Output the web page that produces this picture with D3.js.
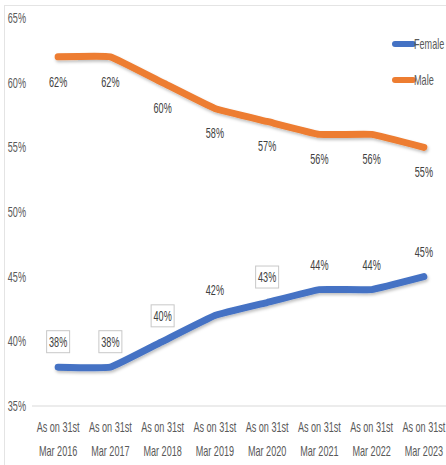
<!DOCTYPE html>
<html>
<head>
<meta charset="utf-8">
<script src="https://cdn.jsdelivr.net/npm/d3@7"></script>
<style>
  body { margin: 0; background: #fff; }
  text { font-family: "Liberation Sans", Arial, sans-serif; font-size: 14px; }
  .axis text { fill: #595959; }
  .label { fill: #404040; }
</style>
</head>
<body>
<div id="vis"></div>
<script>
var years = ['2016', '2017', '2018', '2019', '2020', '2021', '2022', '2023'];
var female = [38, 38, 40, 42, 43, 44, 44, 45];
var male = [62, 62, 60, 58, 57, 56, 56, 55];
var boxedFemale = [true, true, true, false, true, false, false, false];
var yTicks = [35, 40, 45, 50, 55, 60, 65];

var width = 446;
var height = 465;
var squeeze = 0.65; // condensed look of the original font

var margin = { left: 32, right: -4, top: 18, bottom: 59 };
var drawHeight = height - margin.top - margin.bottom;

var svg = d3.select('#vis')
    .append('svg')
    .attr('width', width)
    .attr('height', height);

var squash = function(x, y) {
    return 'translate(' + x + ',' + y + ') scale(' + squeeze + ',1)';
};

var defs = svg.append('defs');
var shadow = defs.append('filter').attr('id', 'shadow')
    .attr('x', '-5%').attr('y', '-50%').attr('width', '110%').attr('height', '200%');
shadow.append('feDropShadow')
    .attr('dx', 1).attr('dy', 2).attr('stdDeviation', 1.5)
    .attr('flood-color', '#000').attr('flood-opacity', 0.25);

// chart frame
svg.append('rect')
    .attr('x', 4.5).attr('y', 5.5)
    .attr('width', width + 10).attr('height', height + 10)
    .attr('fill', 'none')
    .attr('stroke', '#e4e4e4');

var xScale = d3.scaleBand()
    .domain(years)
    .range([margin.left, width - margin.right]);

var yScale = d3.scaleLinear()
    .domain([35, 65])
    .range([margin.top + drawHeight, margin.top]);

var xc = function(d) { return xScale(d) + xScale.bandwidth() / 2; };

// baseline
svg.append('line')
    .attr('x1', margin.left).attr('x2', width)
    .attr('y1', yScale(35)).attr('y2', yScale(35))
    .attr('stroke', '#d9d9d9');

// y axis labels
var yAxis = svg.append('g').attr('class', 'axis');
yAxis.selectAll('text').data(yTicks).enter().append('text')
    .attr('transform', function(d) { return squash(26, yScale(d)); })
    .attr('dy', '0.35em')
    .attr('text-anchor', 'end')
    .text(function(d) { return d + '%'; });

// x axis labels
var xAxis = svg.append('g').attr('class', 'axis');
var xt = xAxis.selectAll('g').data(years).enter().append('g')
    .attr('transform', function(d) { return squash(xc(d), 0); });
xt.append('text')
    .attr('text-anchor', 'middle')
    .attr('y', 432)
    .text('As on 31st');
xt.append('text')
    .attr('text-anchor', 'middle')
    .attr('y', 456)
    .text(function(d) { return 'Mar ' + d; });

var line = d3.line()
    .x(function(d, i) { return xc(years[i]); })
    .y(function(d) { return yScale(d); })
    .curve(d3.curveCardinal.tension(0.75));

var series = [
    { name: 'Female', values: female, color: '#4472c4' },
    { name: 'Male', values: male, color: '#ed7d31' }
];

svg.selectAll('.series').data(series).enter().append('path')
    .attr('class', 'series')
    .attr('d', function(d) { return line(d.values); })
    .attr('fill', 'none')
    .attr('stroke', function(d) { return d.color; })
    .attr('stroke-width', 7)
    .attr('stroke-linecap', 'round')
    .attr('stroke-linejoin', 'round')
    .attr('filter', 'url(#shadow)');

// male labels below the line
svg.selectAll('.mlabel').data(male).enter().append('text')
    .attr('class', 'label')
    .attr('text-anchor', 'middle')
    .attr('transform', function(d, i) { return squash(xc(years[i]), yScale(d) + 25); })
    .attr('dy', '0.35em')
    .text(function(d) { return d + '%'; });

// female labels above the line, some in boxes
var fl = svg.selectAll('.flabel').data(female).enter().append('g')
    .attr('transform', function(d, i) {
        return 'translate(' + xc(years[i]) + ',' + (yScale(d) - 25) + ')';
    });
fl.filter(function(d, i) { return boxedFemale[i]; })
    .append('rect')
    .attr('x', -11.5).attr('y', -11.5)
    .attr('width', 23).attr('height', 22)
    .attr('fill', '#fff')
    .attr('stroke', '#c8c8c8');
fl.append('text')
    .attr('class', 'label')
    .attr('text-anchor', 'middle')
    .attr('transform', 'scale(' + squeeze + ',1)')
    .attr('dy', '0.35em')
    .text(function(d) { return d + '%'; });

// legend
var legend = svg.selectAll('.legend').data(series).enter().append('g')
    .attr('transform', function(d, i) { return 'translate(393,' + (44 + i * 36) + ')'; });
legend.append('line')
    .attr('x1', 2).attr('x2', 20)
    .attr('stroke', function(d) { return d.color; })
    .attr('stroke-width', 6)
    .attr('stroke-linecap', 'round');
legend.append('text')
    .attr('transform', 'translate(21,0) scale(' + squeeze + ',1)')
    .attr('dy', '0.35em')
    .attr('fill', '#595959')
    .text(function(d) { return d.name; });
</script>
</body>
</html>
